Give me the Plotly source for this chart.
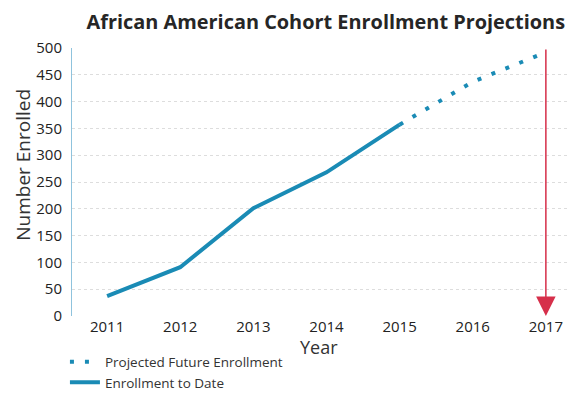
import plotly.graph_objects as go

years_actual = [2011, 2012, 2013, 2014, 2015]
enrolled_actual = [37, 91, 201, 268, 357]

years_proj = [2015, 2016, 2017]
enrolled_proj = [357, 437, 492]

tick_years = [2011, 2012, 2013, 2014, 2015, 2016, 2017]
y_ticks = [0, 50, 100, 150, 200, 250, 300, 350, 400, 450, 500]
arrow_year = 2017
arrow_top = 500

blue = "#1a8bb5"
red = "#d62f4a"
font = "Open Sans"

fig = go.Figure()
fig.add_trace(go.Scatter(
    x=years_proj, y=enrolled_proj, mode="lines",
    name="Projected Future Enrollment",
    line=dict(color=blue, width=4, dash="4px,11px"),
))
fig.add_trace(go.Scatter(
    x=years_actual, y=enrolled_actual, mode="lines",
    name="Enrollment to Date",
    line=dict(color=blue, width=4),
))

fig.add_annotation(
    x=arrow_year, y=0, ax=arrow_year, ay=arrow_top,
    xref="x", yref="y", axref="x", ayref="y",
    text="", showarrow=True, arrowhead=2, arrowsize=2.6,
    arrowwidth=1.5, arrowcolor=red,
)
# axis titles
fig.add_annotation(text="Year", xref="paper", yref="paper", x=0.495, y=-0.115,
                   xanchor="center", yanchor="middle", showarrow=False,
                   font=dict(size=18, color="#333333", family=font))
fig.add_annotation(text="Number Enrolled", xref="paper", yref="paper", x=-0.1, y=0.565,
                   xanchor="center", yanchor="middle", showarrow=False, textangle=-90,
                   font=dict(size=19, color="#333333", family=font))

fig.update_layout(
    width=581, height=393,
    margin=dict(l=64, r=19, t=40, b=85, autoexpand=False),
    paper_bgcolor="white", plot_bgcolor="white",
    font=dict(family=font, color="#333333", size=13),
    title=dict(text="<b>African American Cohort Enrollment Projections</b>",
               x=0.547, xanchor="center", y=0.965, yanchor="middle",
               font=dict(size=19.9, color="#262626", family=font)),
    showlegend=True,
    legend=dict(xref="container", yref="container", x=0.098, y=0.0725,
                xanchor="left", yanchor="middle",
                font=dict(size=13.5, color="#333333"),
                bgcolor="rgba(0,0,0,0)", tracegroupgap=0,
                itemwidth=30),
)
fig.update_xaxes(
    range=[2010.52, 2017.33], tickmode="array", tickvals=tick_years,
    ticktext=[str(y) for y in tick_years], automargin=False, tickangle=0,
    showgrid=False, zeroline=False, showline=False, ticks="",
    tickfont=dict(size=15, color="#222222"),
)
fig.update_yaxes(
    range=[0, 500], tickmode="array", tickvals=y_ticks, automargin=False,
    showgrid=True, gridcolor="#dddddd", griddash="dot", gridwidth=1,
    zeroline=False, showline=True, linecolor="#8fc3dd", linewidth=1,
    ticks="", ticklabelstandoff=6,
    tickfont=dict(size=15, color="#222222"),
)

fig.write_html("out.html")
